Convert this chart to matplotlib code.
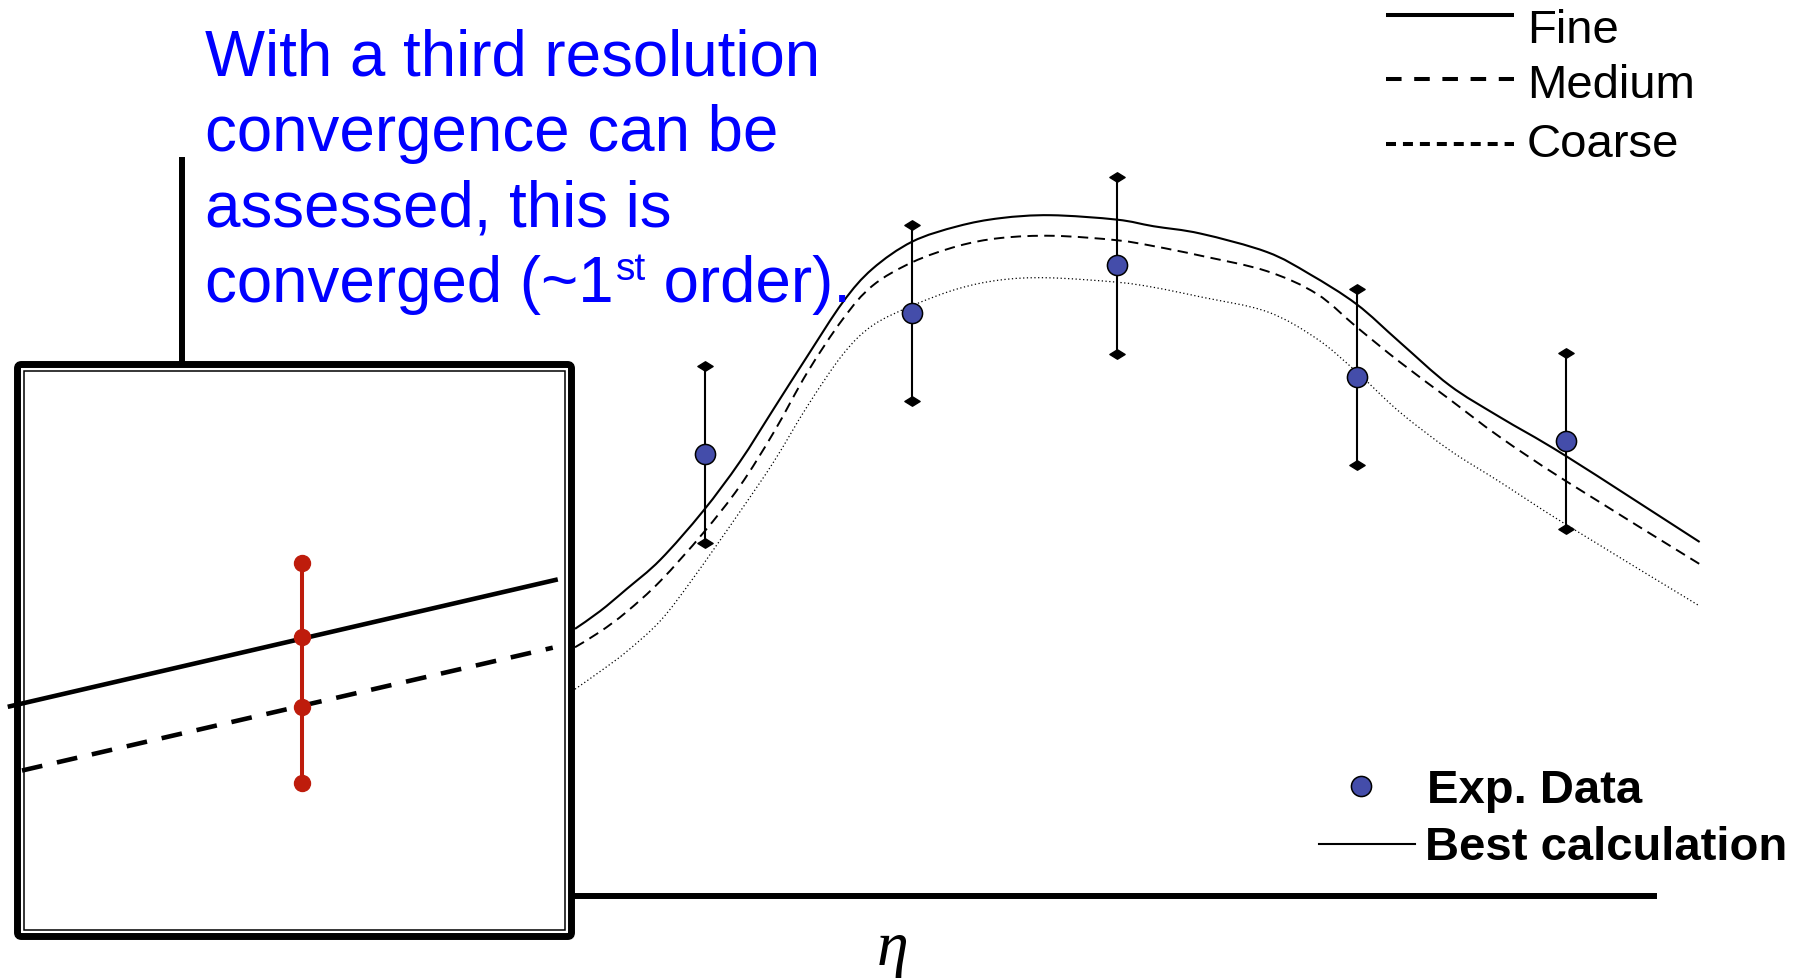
import matplotlib
matplotlib.use("Agg")
import matplotlib.pyplot as plt
from matplotlib.path import Path
from matplotlib.patches import FancyBboxPatch, Rectangle, PathPatch

plt.rcParams['font.family'] = ['Liberation Sans', 'DejaVu Sans']
plt.rcParams['lines.scale_dashes'] = False

W, H, DPI = 1804, 979, 100

# ---- solutions on three grids: eta vs. quantity ----
fine_eta = [2.67, 2.84, 3.02, 3.25, 3.54, 3.79, 4.02, 4.25, 4.49, 4.69, 4.96, 5.27, 5.56,
            5.90, 6.35, 6.60, 6.92, 7.37, 7.66, 7.98, 8.27, 8.61, 8.95, 9.40, 10.31]
fine_val = [3.63, 3.87, 4.17, 4.57, 5.23, 5.90, 6.62, 7.34, 8.07, 8.52, 8.89, 9.10, 9.21,
            9.25, 9.19, 9.10, 9.00, 8.75, 8.45, 8.04, 7.53, 6.94, 6.51, 5.98, 4.81]

medium_eta = [2.67, 2.84, 3.02, 3.25, 3.54, 3.79, 4.02, 4.25, 4.49, 4.69, 4.96, 5.27, 5.56,
              5.92, 6.35, 6.60, 6.92, 7.37, 7.71, 7.98, 8.27, 8.61, 8.95, 9.40, 10.31]
medium_val = [3.38, 3.59, 3.86, 4.28, 4.93, 5.57, 6.30, 7.12, 7.84, 8.29, 8.61, 8.83, 8.94,
              8.97, 8.91, 8.83, 8.70, 8.49, 8.18, 7.73, 7.26, 6.75, 6.24, 5.64, 4.51]

coarse_eta = [2.67, 2.84, 3.02, 3.25, 3.47, 3.79, 4.02, 4.25, 4.49, 4.69, 4.96, 5.27, 5.56,
              5.88, 6.35, 6.60, 6.92, 7.37, 7.71, 7.98, 8.27, 8.61, 8.95, 9.40, 10.31]
coarse_val = [2.81, 3.05, 3.32, 3.74, 4.31, 5.22, 5.90, 6.66, 7.36, 7.75, 8.02, 8.25, 8.37,
              8.40, 8.34, 8.27, 8.14, 7.94, 7.57, 7.12, 6.58, 6.06, 5.63, 5.05, 3.94]

# ---- measurements ----
exp_eta = [3.55, 4.96, 6.35, 7.98, 9.40]
exp_val = [6.00, 7.92, 8.57, 7.05, 6.18]
exp_err = [1.20, 1.20, 1.20, 1.20, 1.20]

# ---- close-up of two grids at one station ----
zoom_fine_eta = [-0.13, 9.71]
zoom_fine_val = [4.01, 6.23]
zoom_medium_eta = [0.125, 9.62]
zoom_medium_val = [2.90, 5.04]
zoom_bar_eta = 5.13
zoom_bar_val = [2.68, 4.01, 5.23, 6.52]

grid_labels = ['Fine', 'Medium', 'Coarse']
key_labels = ['Exp. Data', 'Best calculation']
note_lines = ['With a third resolution', 'convergence can be', 'assessed, this is']
note_last = ['converged (~1', 'st', ' order).']
x_label = 'η'

BLUE = '#0000FF'
MARKER_FC = '#444DAA'
RED = '#BE1C0C'

fig = plt.figure(figsize=(W / DPI, H / DPI), dpi=DPI)
fig.patch.set_facecolor('white')


def frac_rect(x0, y0, x1, y1):
    """pixel box (top-left origin) -> figure fraction rect"""
    return [x0 / W, 1 - y1 / H, (x1 - x0) / W, (y1 - y0) / H]


def smooth_path(xs, ys):
    """Cubic Bezier path through the given points (Catmull-Rom tangents)."""
    pts = list(zip(xs, ys))
    verts = [pts[0]]
    codes = [Path.MOVETO]
    n = len(pts)
    for i in range(n - 1):
        p0 = pts[i - 1] if i > 0 else pts[i]
        p1 = pts[i]
        p2 = pts[i + 1]
        p3 = pts[i + 2] if i + 2 < n else pts[i + 1]
        c1 = (p1[0] + (p2[0] - p0[0]) / 6, p1[1] + (p2[1] - p0[1]) / 6)
        c2 = (p2[0] - (p3[0] - p1[0]) / 6, p2[1] - (p3[1] - p1[1]) / 6)
        verts += [c1, c2, p2]
        codes += [Path.CURVE4] * 3
    return Path(verts, codes)


# ---- main axes ----
ax = fig.add_axes(frac_rect(182, 161, 1654, 897), zorder=1)
ax.set_xlim(0, 10)
ax.set_ylim(0, 10)
ax.patch.set_alpha(0)
for s in ('top', 'right'):
    ax.spines[s].set_visible(False)
for s in ('left', 'bottom'):
    ax.spines[s].set_linewidth(4.3)
ax.set_xticks([])
ax.set_yticks([])

curve_styles = [
    (fine_eta, fine_val, dict(lw=1.5, linestyle='-')),
    (medium_eta, medium_val, dict(lw=1.4, linestyle=(0, (7.5, 4.6)))),
    (coarse_eta, coarse_val, dict(lw=0.9, linestyle=(0, (0.9, 1.8)))),
]
for xs, ys, st in curve_styles:
    ax.add_patch(PathPatch(smooth_path(xs, ys), fill=False, ec='black', clip_on=False,
                           zorder=3, capstyle='butt', **st))

diamond = Path([(-1, 0), (0, 0.62), (1, 0), (0, -0.62), (-1, 0)],
               [Path.MOVETO, Path.LINETO, Path.LINETO, Path.LINETO, Path.CLOSEPOLY])
ax.errorbar(exp_eta, exp_val, yerr=exp_err, fmt='none', ecolor='black',
            elinewidth=1.5, capsize=0, zorder=2, clip_on=False)
lo = [v - e for v, e in zip(exp_val, exp_err)]
hi = [v + e for v, e in zip(exp_val, exp_err)]
ax.plot(exp_eta, lo, ls='none', marker=diamond, ms=11, color='black', zorder=2, clip_on=False)
ax.plot(exp_eta, hi, ls='none', marker=diamond, ms=11, color='black', zorder=2, clip_on=False)
ax.plot(exp_eta, exp_val, ls='none', marker='o', ms=14.5, mfc=MARKER_FC, mec='black',
        mew=1.1, zorder=5, clip_on=False)

# ---- overlay in pixel units for box, notes and keys ----
ov = fig.add_axes([0, 0, 1, 1], zorder=2)
ov.set_xlim(0, W)
ov.set_ylim(H, 0)
ov.axis('off')
ov.patch.set_alpha(0)

shadow = FancyBboxPatch((20.5, 368.5), 554, 572, boxstyle='round,pad=0,rounding_size=4',
                        lw=0, fc='#d9d9d9', alpha=0.6)
ov.add_patch(shadow)
box = FancyBboxPatch((17.5, 365.5), 554, 572, boxstyle='round,pad=0,rounding_size=4',
                     lw=5.0, ec='black', fc='white')
ov.add_patch(box)
ov.add_patch(Rectangle((23.7, 372), 540.8, 558.6, fill=False, lw=1.1, ec='black'))

# note text
note_fs = 45.8
for i, line in enumerate(note_lines):
    ov.text(205, 75 + 75.8 * i, line, color=BLUE, fontsize=note_fs, va='baseline', ha='left')
renderer = fig.canvas.get_renderer()
base4 = 75 + 75.8 * 3
t1 = ov.text(205, base4, note_last[0], color=BLUE, fontsize=note_fs, va='baseline', ha='left')
x_end = t1.get_window_extent(renderer).x1
t2 = ov.text(x_end + 2, base4 - 22, note_last[1], color=BLUE, fontsize=28, va='baseline', ha='left')
x_end = t2.get_window_extent(renderer).x1
ov.text(x_end, base4, note_last[2], color=BLUE, fontsize=note_fs, va='baseline', ha='left')

# grid key (top right)
key_styles = [dict(ls='-'), dict(ls=(0, (11.2, 9.1))), dict(ls=(0, (7.2, 5.0)))]
key_line_y = [16, 80, 145]
key_text_y = [42.7, 98.3, 157]
for lab, st, ly, ty in zip(grid_labels, key_styles, key_line_y, key_text_y):
    ov.plot([1386, 1514], [ly, ly], color='black', lw=2.9, solid_capstyle='butt',
            dash_capstyle='butt', **st)
    ov.text(1527, ty, lab, fontsize=34, va='baseline', ha='left')

# data key (bottom right)
ov.plot([1361], [787], ls='none', marker='o', ms=14.5, mfc=MARKER_FC, mec='black', mew=1.1)
ov.plot([1319, 1415], [845, 845], color='black', lw=1.5)
ov.text(1427, 803.3, key_labels[0], fontsize=34, fontweight='bold', va='baseline', ha='left')
ov.text(1425, 860, key_labels[1], fontsize=34, fontweight='bold', va='baseline', ha='left')

# axis label
ov.text(893, 950, x_label, family=['Liberation Serif', 'DejaVu Serif'], style='italic',
        fontsize=46, ha='center', va='center')

# ---- close-up panel ----
ins = fig.add_axes(frac_rect(15, 364, 574, 938), zorder=3)
ins.set_xlim(0, 10)
ins.set_ylim(0, 10)
ins.axis('off')
ins.patch.set_alpha(0)
ins.plot(zoom_fine_eta, zoom_fine_val, color='black', lw=3.3, clip_on=False,
         solid_capstyle='butt')
ins.plot(zoom_medium_eta, zoom_medium_val, color='black', lw=3.3, clip_on=False,
         linestyle=(0, (15, 10.8)), dash_capstyle='butt')
ins.plot([zoom_bar_eta] * len(zoom_bar_val), zoom_bar_val, color=RED, lw=2.9,
         marker='o', ms=11.5, mfc=RED, mec=RED, clip_on=False)

fig.savefig('out.png', dpi=DPI, facecolor='white')
